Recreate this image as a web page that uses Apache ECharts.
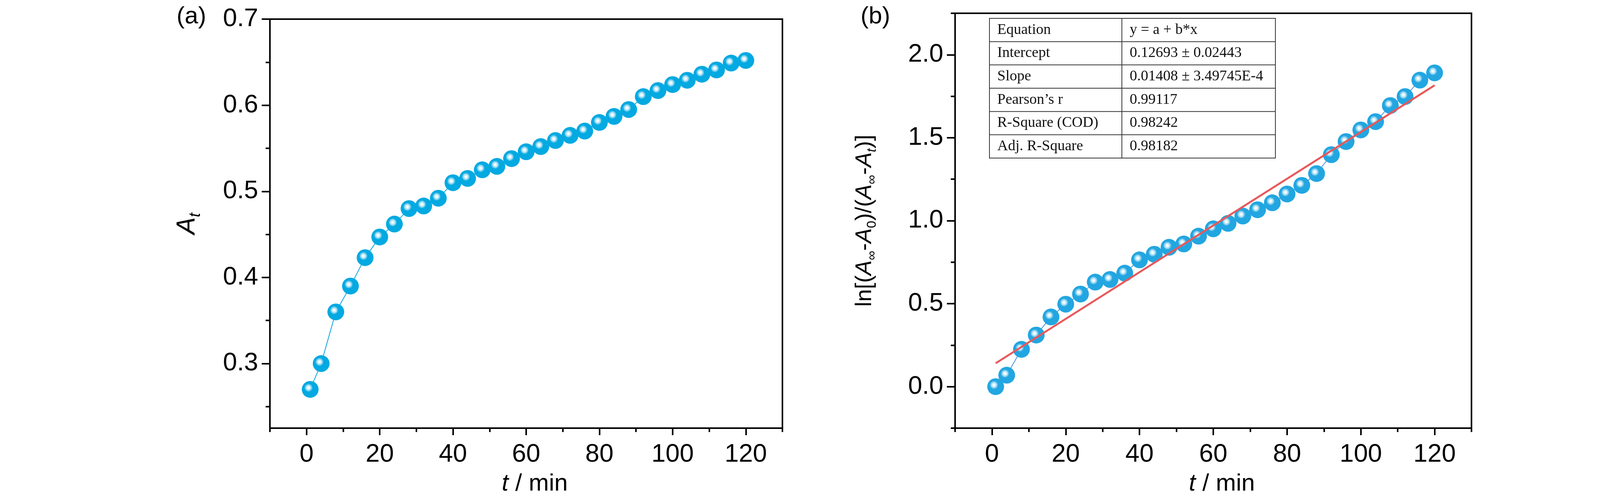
<!DOCTYPE html>
<html>
<head>
<meta charset="utf-8">
<script src="https://cdn.jsdelivr.net/npm/echarts@6/dist/echarts.min.js"></script>
<style>
html,body{margin:0;padding:0;background:#fff;}
#chart{width:4134px;height:1276px;}
</style>
</head>
<body>
<div id="chart"></div>
<script>
// ---- data ----
const xMinutes = [1,4,8,12,16,20,24,28,32,36,40,44,48,52,56,60,64,68,72,76,80,84,88,92,96,100,104,108,112,116,120];
const absorbanceA = [0.270,0.300,0.360,0.390,0.423,0.447,0.462,0.480,0.483,0.492,0.510,0.515,0.525,0.529,0.538,0.546,0.552,0.559,0.565,0.570,0.580,0.587,0.595,0.610,0.617,0.624,0.629,0.636,0.641,0.649,0.652];
const lnRatioB = [0.000,0.069,0.225,0.311,0.420,0.497,0.558,0.630,0.646,0.684,0.764,0.798,0.840,0.860,0.907,0.951,0.984,1.028,1.066,1.108,1.161,1.213,1.284,1.398,1.477,1.547,1.597,1.694,1.748,1.847,1.891];
const fitX = [1, 120];
const fitY = [0.141, 1.816];
const xMajorTicks = [0,20,40,60,80,100,120];
const xMinorTicks = [-10,10,30,50,70,90,110,130];
const yMajorTicksA = [0.3,0.4,0.5,0.6,0.7];
const yMinorTicksA = [0.25,0.35,0.45,0.55,0.65];
const yMajorTicksB = [0,0.5,1.0,1.5,2.0];
const yMinorTicksB = [-0.25,0.25,0.75,1.25,1.75,2.25];
const tableLabels = ['Equation','Intercept','Slope','Pearson\u2019s r','R-Square (COD)','Adj. R-Square'];
const tableValues = ['y = a + b*x','0.12693 \u00b1 0.02443','0.01408 \u00b1 3.49745E-4','0.99117','0.98242','0.98182'];
const panelLabels = ['(a)','(b)'];

// ---- styling ----
const FONT = '"Liberation Sans Narrow","Arial Narrow","Liberation Sans",Arial,sans-serif';
const SERIF = '"Liberation Serif","Times New Roman",serif';
const FS = 65;
const LINEW = 4;

function sphere(base, light) {
  return {type:'radial', x:0.4, y:0.4, r:0.55, colorStops:[
    {offset:0, color:'#ffffff'},
    {offset:0.1, color:'#f2fbfe'},
    {offset:0.28, color:light},
    {offset:0.46, color:base},
    {offset:1, color:base}
  ]};
}

const pairsA = xMinutes.map((x,i)=>[x, absorbanceA[i]]);
const pairsB = xMinutes.map((x,i)=>[x, lnRatioB[i]]);
const fitPairs = fitX.map((x,i)=>[x, fitY[i]]);

const grids = [
  {left:691, top:49, width:1312, height:1056, show:true, borderColor:'#000', borderWidth:LINEW, backgroundColor:'transparent'},
  {left:2445, top:34, width:1322, height:1065, show:true, borderColor:'#000', borderWidth:LINEW, backgroundColor:'transparent'}
];

function richSub(main, sub, lift) {
  return {
    n: {fontSize:main, fontFamily:FONT, color:'#000', padding:[0,0,lift,0], verticalAlign:'bottom', lineHeight:main},
    i: {fontSize:main, fontFamily:FONT, fontStyle:'italic', color:'#000', padding:[0,0,lift,0], verticalAlign:'bottom', lineHeight:main},
    s: {fontSize:sub, fontFamily:FONT, color:'#000', verticalAlign:'bottom', lineHeight:sub},
    si: {fontSize:sub, fontFamily:FONT, fontStyle:'italic', color:'#000', verticalAlign:'bottom', lineHeight:sub}
  };
}

function xMain(gi) {
  return {
    type:'value', gridIndex:gi, min:-10, max:130, position:'bottom',
    name:'{it|t} / min', nameLocation:'middle', nameGap:112,
    nameTextStyle:{fontSize:62, fontFamily:FONT, color:'#000', padding:[0,0,0,44],
      rich:{it:{fontSize:62, fontFamily:FONT, fontStyle:'italic', color:'#000'}}},
    axisLine:{show:true, onZero:false, lineStyle:{color:'#000', width:LINEW}},
    axisTick:{show:true, length:18, lineStyle:{color:'#000', width:LINEW}, customValues:xMajorTicks},
    axisLabel:{show:true, margin:36, fontSize:FS, fontFamily:FONT, color:'#000', customValues:xMajorTicks,
      formatter:(v)=>String(Math.round(v))},
    splitLine:{show:false}
  };
}
function xMinor(gi) {
  return {
    type:'value', gridIndex:gi, min:-10, max:130, position:'bottom',
    axisLine:{show:false, onZero:false},
    axisTick:{show:true, length:10, lineStyle:{color:'#000', width:LINEW}, customValues:xMinorTicks},
    axisLabel:{show:false}, splitLine:{show:false}
  };
}
function yMain(gi, mn, mx, majors, name, gap, rich) {
  return {
    type:'value', gridIndex:gi, min:mn, max:mx, position:'left',
    name:name, nameLocation:'middle', nameGap:gap, nameRotate:90,
    nameTextStyle:{fontSize:FS, fontFamily:FONT, color:'#000', rich:rich},
    axisLine:{show:true, onZero:false, lineStyle:{color:'#000', width:LINEW}},
    axisTick:{show:true, length:21, lineStyle:{color:'#000', width:LINEW}, customValues:majors},
    axisLabel:{show:true, margin:30, fontSize:FS, fontFamily:FONT, color:'#000', customValues:majors,
      formatter:(v)=>Number(v).toFixed(1)},
    splitLine:{show:false}
  };
}
function yMinor(gi, mn, mx, minors) {
  return {
    type:'value', gridIndex:gi, min:mn, max:mx, position:'left',
    axisLine:{show:false, onZero:false},
    axisTick:{show:true, length:11, lineStyle:{color:'#000', width:LINEW}, customValues:minors},
    axisLabel:{show:false}, splitLine:{show:false}
  };
}

const nameA = '{i|A}{si|t}';
const nameB = '{n|ln[(}{i|A}{s|\u221e}{n|-}{i|A}{s|0}{n|)/(}{i|A}{s|\u221e}{n|-}{i|A}{si|t}{n|)]}';

// ---- table as graphic ----
const tLeft = 2533, tTop = 47, tW = 732, tH = 358, tSplit = 2872;
const rowH = tH / tableLabels.length;
const tableEls = [];
tableEls.push({type:'rect', shape:{x:tLeft, y:tTop, width:tW, height:tH},
  style:{fill:'#fff', stroke:'#333', lineWidth:2}, z:100});
for (let r = 1; r < tableLabels.length; r++) {
  tableEls.push({type:'line', shape:{x1:tLeft, y1:tTop + r*rowH, x2:tLeft+tW, y2:tTop + r*rowH},
    style:{stroke:'#333', lineWidth:2}, z:101});
}
tableEls.push({type:'line', shape:{x1:tSplit, y1:tTop, x2:tSplit, y2:tTop+tH},
  style:{stroke:'#333', lineWidth:2}, z:101});
tableLabels.forEach((lab, r) => {
  tableEls.push({type:'text', x:tLeft + 20, y:tTop + r*rowH + rowH/2,
    style:{text:lab, font:'38px ' + SERIF, fill:'#111', verticalAlign:'middle', align:'left'}, z:102});
  tableEls.push({type:'text', x:tSplit + 20, y:tTop + r*rowH + rowH/2,
    style:{text:tableValues[r], font:'38px ' + SERIF, fill:'#111', verticalAlign:'middle', align:'left'}, z:102});
});
tableEls.push({type:'text', x:452, y:12, style:{text:panelLabels[0], font:'62px ' + FONT, fill:'#000'}, z:102});
tableEls.push({type:'text', x:2203, y:12, style:{text:panelLabels[1], font:'62px ' + FONT, fill:'#000'}, z:102});

const option = {
  backgroundColor:'#ffffff',
  animation:false,
  grid: grids,
  xAxis: [xMain(0), xMinor(0), xMain(1), xMinor(1)],
  yAxis: [
    yMain(0, 0.225, 0.7, yMajorTicksA, nameA, 170, richSub(66, 40, 8)),
    yMinor(0, 0.225, 0.7, yMinorTicksA),
    yMain(1, -0.25, 2.25, yMajorTicksB, nameB, 195, richSub(58, 34, 7)),
    yMinor(1, -0.25, 2.25, yMinorTicksB)
  ],
  graphic: tableEls,
  series: [
    {type:'line', xAxisIndex:0, yAxisIndex:0, data:pairsA, symbol:'circle', symbolSize:43,
      lineStyle:{color:'#0aa6df', width:2}, itemStyle:{color:sphere('#03a9e1','#9fdcf3')}, z:3},
    {type:'line', xAxisIndex:2, yAxisIndex:2, data:pairsB, symbol:'circle', symbolSize:43,
      lineStyle:{color:'#4a8fe0', width:2}, itemStyle:{color:sphere('#22a6e1','#a6dcf3')}, z:3},
    {type:'line', xAxisIndex:2, yAxisIndex:2, data:fitPairs, symbol:'none',
      lineStyle:{color:'#e8585a', width:5}, z:5}
  ]
};

const chart = echarts.init(document.getElementById('chart'), null, {renderer:'canvas'});
chart.setOption(option);
</script>
</body>
</html>
